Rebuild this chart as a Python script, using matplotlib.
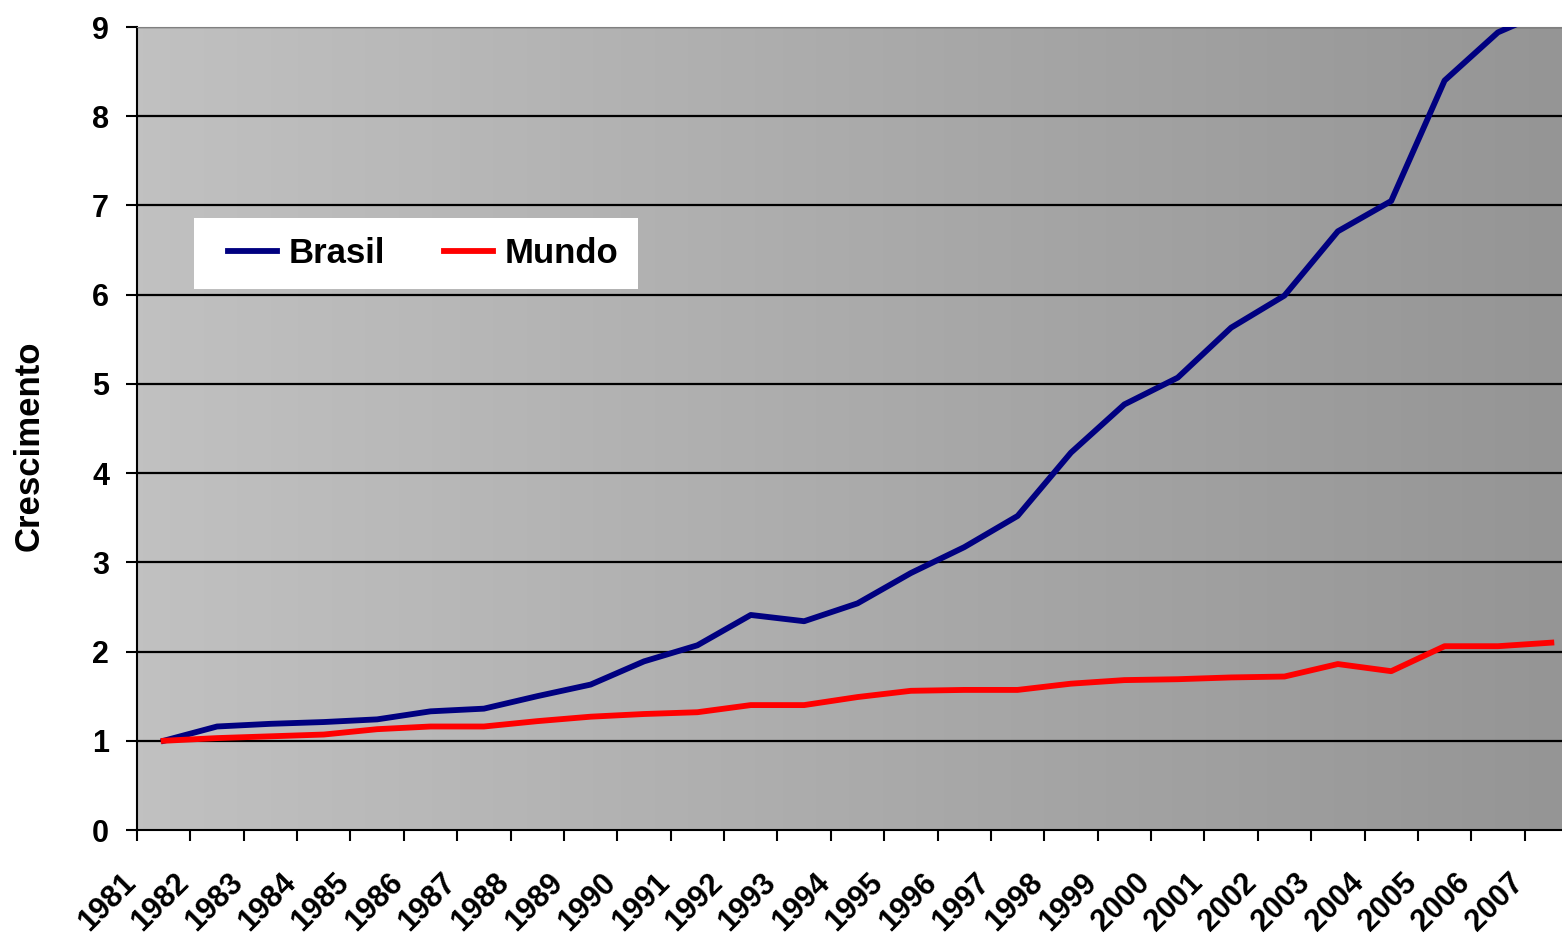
import numpy as np
import matplotlib
matplotlib.use("Agg")
import matplotlib.pyplot as plt
from matplotlib.colors import LinearSegmentedColormap
from matplotlib.patches import Rectangle

# dados
anos = [str(a) for a in range(1981, 2008)]
brasil = [1.0, 1.16, 1.19, 1.21, 1.24, 1.33, 1.36, 1.50, 1.63, 1.89, 2.07, 2.41, 2.34, 2.54,
          2.88, 3.17, 3.52, 4.23, 4.77, 5.07, 5.63, 5.99, 6.71, 7.05, 8.40, 8.94, 9.2]
mundo = [1.0, 1.03, 1.05, 1.07, 1.13, 1.16, 1.16, 1.22, 1.27, 1.30, 1.32, 1.40, 1.40, 1.49,
         1.56, 1.57, 1.57, 1.64, 1.68, 1.69, 1.71, 1.72, 1.86, 1.78, 2.06, 2.06, 2.10]

plt.rcParams['font.family'] = ['Liberation Sans', 'DejaVu Sans']
plt.rcParams['font.weight'] = 'bold'

fig = plt.figure(figsize=(15.62, 9.41), dpi=100)
ax = fig.add_axes([137 / 1562, 1 - 830 / 941, 1 - 137 / 1562, (830 - 27) / 941])

x = np.arange(len(anos))

# fundo em degradê
cmap = LinearSegmentedColormap.from_list('fundo', ['#c1c1c1', '#959595'])
grad = np.linspace(0, 1, 256).reshape(1, -1)
ax.imshow(grad, cmap=cmap, aspect='auto', extent=[0, 1, 0, 1],
          transform=ax.transAxes, zorder=0)

ax.set_xlim(-0.5, 26.2)
ax.set_ylim(0, 9)

for v in range(1, 10):
    ax.axhline(v, color='black', linewidth=1.6, zorder=1)

ax.plot(x, brasil, color='#000080', linewidth=4.2, label='Brasil', zorder=3)
ax.plot(x, mundo, color='#ff0000', linewidth=4.2, label='Mundo', zorder=3)

ax.set_yticks(range(0, 10))
ax.set_xticks(x - 0.5)
ax.set_xticklabels(anos, rotation=45, ha='right', va='baseline', rotation_mode='anchor')
ax.tick_params(axis='both', labelsize=22, width=1.5, length=8, direction='out')
ax.tick_params(axis='y', pad=12)
ax.tick_params(axis='x', pad=31)
for lbl in ax.get_xticklabels() + ax.get_yticklabels():
    lbl.set_fontweight('bold')

ax.spines['left'].set_linewidth(1.5)
ax.spines['bottom'].set_linewidth(1.5)
ax.spines['top'].set_color('#808080')
ax.spines['right'].set_visible(False)

ax.set_ylabel('Crescimento', fontsize=25, fontweight='bold')
ax.yaxis.set_label_coords(-0.064, 0.479)

# caixa branca da legenda
ax.add_patch(Rectangle((0.040, 0.6737), 0.3116, 0.0884, transform=ax.transAxes,
                       facecolor='white', edgecolor='none', zorder=4))
leg = ax.legend(loc='center left', bbox_to_anchor=(0.0639, 0.7179), ncol=2,
                fontsize=25, frameon=False, handlelength=1.4,
                handletextpad=0.35, columnspacing=1.7, borderpad=0,
                borderaxespad=0)
leg.set_zorder(5)
for t in leg.get_texts():
    t.set_fontweight('bold')

fig.savefig('out.png', dpi=100)
